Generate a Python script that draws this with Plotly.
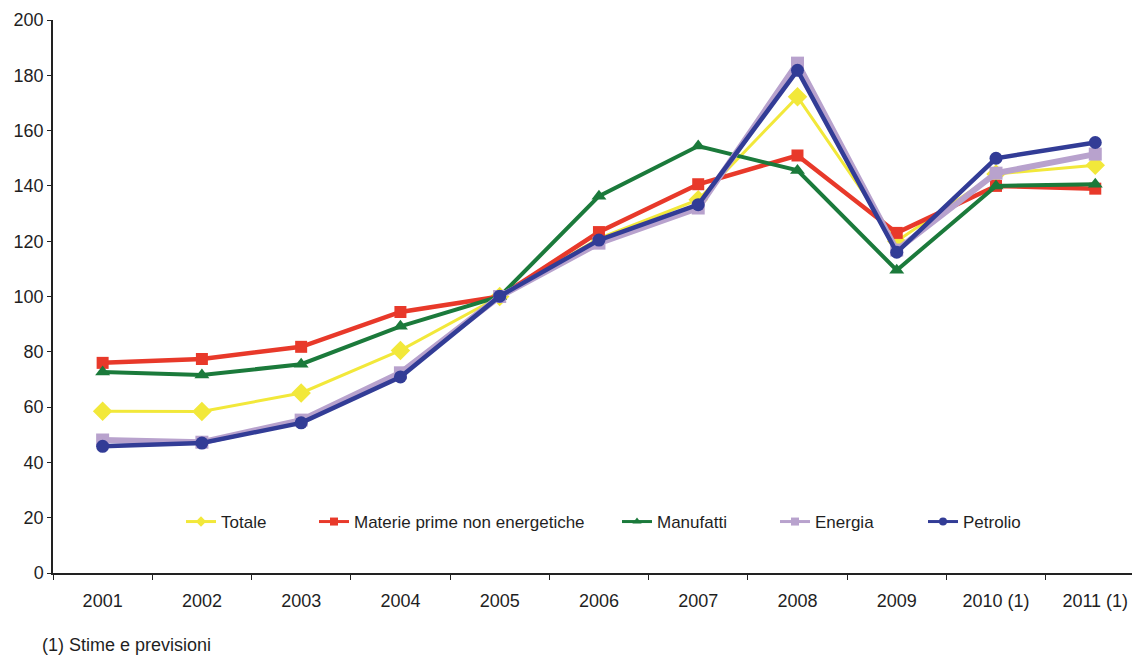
import plotly.graph_objects as go

categories = ["2001", "2002", "2003", "2004", "2005", "2006", "2007", "2008", "2009", "2010 (1)", "2011 (1)"]
totale = [58.5, 58.4, 65.1, 80.5, 100.0, 121.0, 135.0, 172.2, 120.0, 144.3, 147.5]
materie = [76.0, 77.4, 81.8, 94.4, 100.0, 123.3, 140.6, 151.0, 123.0, 140.0, 139.0]
manufatti = [72.7, 71.6, 75.5, 89.2, 100.0, 136.3, 154.4, 145.6, 109.5, 140.0, 140.6]
energia = [48.1, 47.3, 55.3, 72.4, 100.0, 119.3, 132.0, 184.4, 116.8, 144.6, 151.5]
petrolio = [45.8, 47.0, 54.3, 70.9, 100.1, 120.4, 133.2, 181.8, 116.0, 150.0, 155.7]
y_ticks = [0, 20, 40, 60, 80, 100, 120, 140, 160, 180, 200]

series = [
    ("Totale", totale, "#F2E83A", 3, "diamond", 15),
    ("Materie prime non energetiche", materie, "#E8392A", 4.5, "square", 12),
    ("Manufatti", manufatti, "#1B7A3B", 4, "triangle-up", 13),
    ("Energia", energia, "#B8A2CD", 6, "square", 13),
    ("Petrolio", petrolio, "#323C96", 4.5, "circle", 13),
]

FIG_W, FIG_H = 1132, 655
ML, MT, MB = 53, 20, 82
PLOT_W = FIG_W - ML
PLOT_H = FIG_H - MT - MB
AXIS_Y = MT + PLOT_H  # pixel row of the x axis

font_family = "Liberation Sans, Arial, sans-serif"
font = dict(family=font_family, size=18, color="#1f1f1f")

legend_left_px = [181, 314, 617, 775, 923]
legend_y = (AXIS_Y - 522) / PLOT_H

fig = go.Figure()
for name, vals, color, lw, sym, ms in series:
    fig.add_trace(go.Scatter(
        x=list(range(len(categories))), y=vals, name=name, mode="lines+markers",
        line=dict(color=color, width=lw),
        marker=dict(symbol=sym, size=ms, color=color, line=dict(width=0)),
        showlegend=False,
    ))

legend_layouts = {}
for i, (name, vals, color, lw, sym, ms) in enumerate(series):
    key = "legend" if i == 0 else f"legend{i + 1}"
    fig.add_trace(go.Scatter(
        x=[None], y=[None], name=name, mode="lines+markers",
        line=dict(color=color, width=3),
        marker=dict(symbol=sym, size=8, color=color, line=dict(width=0)),
        showlegend=True, legend=key,
    ))
    legend_layouts[key] = dict(
        x=(legend_left_px[i] - ML) / PLOT_W, xanchor="left",
        y=legend_y, yanchor="middle", orientation="h",
        font=dict(family=font_family, size=17, color="#1f1f1f"),
        bgcolor="rgba(0,0,0,0)", borderwidth=0,
    )

fig.update_layout(
    width=FIG_W, height=FIG_H,
    margin=dict(l=ML, r=0, t=MT, b=MB, autoexpand=False),
    paper_bgcolor="white", plot_bgcolor="white",
    font=font,
    showlegend=True,
    xaxis=dict(
        range=[-0.5, 10.37],
        tickmode="array", tickvals=list(range(len(categories))), ticktext=categories,
        ticks="", showgrid=False, zeroline=False,
        showline=True, linecolor="#222222", linewidth=1.5,
        minor=dict(tickmode="array", tickvals=[i + 0.5 for i in range(-1, 11)],
                   ticks="outside", ticklen=5, tickcolor="#222222", tickwidth=1),
        tickfont=font, ticklabelstandoff=11, automargin=False,
    ),
    yaxis=dict(
        range=[0, 200], tickmode="array", tickvals=y_ticks,
        ticks="outside", ticklen=4, tickcolor="#222222", tickwidth=1,
        showgrid=False, zeroline=False,
        showline=True, linecolor="#222222", linewidth=1.5,
        tickfont=font, ticklabelstandoff=0, automargin=False,
    ),
    annotations=[dict(text="(1) Stime e previsioni", xref="paper", yref="paper",
                      x=(40 - ML) / PLOT_W, y=(AXIS_Y - 645) / PLOT_H,
                      xanchor="left", yanchor="middle",
                      showarrow=False, font=dict(family=font_family, size=18, color="#1f1f1f"))],
    **legend_layouts,
)

fig.write_html(
    "out.html",
    config={"displayModeBar": False},
    post_script="document.body.style.margin='0';document.body.style.overflow='hidden';",
)
